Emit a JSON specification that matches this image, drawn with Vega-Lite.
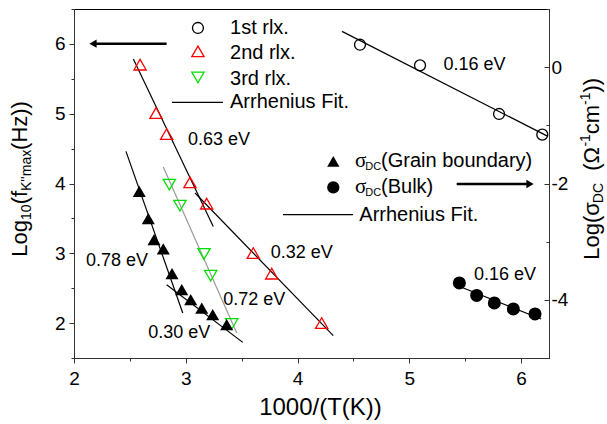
{
  "$schema": "https://vega.github.io/schema/vega-lite/v6.json",
  "width": 475,
  "height": 349,
  "autosize": "none",
  "padding": {"left": 74, "top": 9, "right": 58, "bottom": 66},
  "background": "white",
  "config": {
    "font": "Liberation Sans",
    "view": {"stroke": "#000", "strokeWidth": 1},
    "axis": {
      "labelFont": "Liberation Sans", "titleFont": "Liberation Sans",
      "labelFontSize": 19, "titleFontSize": 24, "titleFontWeight": "normal",
      "labelColor": "#000", "titleColor": "#000",
      "domainColor": "#333", "tickColor": "#333", "grid": false,
      "labelOverlap": false, "labelFlush": false
    },
    "text": {"font": "Liberation Sans", "color": "#000"}
  },
  "datasets": {
    "p2": [{"x":2.591,"y":5.702},{"x":2.734,"y":5.01},{"x":2.829,"y":4.709},{"x":3.038,"y":4.016},{"x":3.187,"y":3.711},{"x":3.604,"y":3.004},{"x":3.769,"y":2.708},{"x":4.216,"y":2.0}],
    "p3": [{"x":2.853,"y":3.983},{"x":2.948,"y":3.682},{"x":3.163,"y":2.99},{"x":3.223,"y":2.679},{"x":3.411,"y":1.987}],
    "gb": [{"x":2.584,"y":3.887},{"x":2.665,"y":3.496},{"x":2.716,"y":3.195},{"x":2.799,"y":3.062},{"x":2.877,"y":2.708},{"x":2.964,"y":2.479},{"x":3.044,"y":2.335},{"x":3.143,"y":2.216},{"x":3.241,"y":2.12},{"x":3.366,"y":1.977}],
    "p1": [{"x":4.559,"y":0.386},{"x":5.096,"y":0.03},{"x":5.803,"y":-0.805},{"x":6.19,"y":-1.161}],
    "bulk": [{"x":5.448,"y":-3.71},{"x":5.603,"y":-3.924},{"x":5.761,"y":-4.054},{"x":5.931,"y":-4.157},{"x":6.125,"y":-4.243}],
    "fitsL": [
      {"x":2.531,"y":5.784,"id":"2a"},{"x":3.246,"y":3.385,"id":"2a"},
      {"x":3.083,"y":3.864,"id":"2b"},{"x":4.32,"y":1.82,"id":"2b"},
      {"x":2.465,"y":4.46,"id":"ga"},{"x":2.973,"y":2.145,"id":"ga"},
      {"x":2.829,"y":2.55,"id":"gb"},{"x":3.51,"y":1.724,"id":"gb"},
      {"x":2.877,"y":5.162,"id":"L1"},{"x":3.333,"y":5.162,"id":"L1"},
      {"x":3.87,"y":3.553,"id":"L2"},{"x":4.496,"y":3.553,"id":"L2"}
    ],
    "fit3": [{"x":2.799,"y":4.236},{"x":3.456,"y":1.858}],
    "fitsR": [
      {"x":4.398,"y":0.615,"id":"1"},{"x":6.24,"y":-1.19,"id":"1"},
      {"x":5.45,"y":-3.77,"id":"b"},{"x":6.18,"y":-4.33,"id":"b"}
    ],
    "arrows": [
      {"x":2.829,"y":6.003,"id":"a"},{"x":2.19,"y":6.003,"id":"a"},
      {"x":5.424,"y":3.993,"id":"b"},{"x":6.06,"y":3.993,"id":"b"}
    ],
    "ann": [
      {"x":3.02,"y":4.627,"t":"0.63 eV"},
      {"x":3.76,"y":3.008,"t":"0.32 eV"},
      {"x":2.107,"y":2.896,"t":"0.78 eV"},
      {"x":3.336,"y":2.335,"t":"0.72 eV"},
      {"x":2.665,"y":1.858,"t":"0.30 eV"},
      {"x":5.305,"y":5.702,"t":"0.16 eV"},
      {"x":5.579,"y":2.693,"t":"0.16 eV"}
    ],
    "legtxt": [
      {"x":3.396,"y":6.228,"t":"1st rlx."},
      {"x":3.396,"y":5.87,"t":"2nd rlx."},
      {"x":3.396,"y":5.5,"t":"3rd rlx."},
      {"x":3.396,"y":5.162,"t":"Arrhenius Fit."},
      {"x":4.747,"y":4.317,"t":"(Grain boundary)"},
      {"x":4.747,"y":3.944,"t":"(Bulk)"},
      {"x":4.553,"y":3.553,"t":"Arrhenius Fit."}
    ],
    "legsig": [
      {"x":4.514,"y":4.317,"t":"σ"},
      {"x":4.514,"y":3.944,"t":"σ"}
    ],
    "legsub": [
      {"x":4.607,"y":4.317,"t":"DC"},
      {"x":4.607,"y":3.944,"t":"DC"}
    ],
    "ttlMain": [
      {"x":1.5795,"y":2.951,"t":"Log"},
      {"x":1.5795,"y":3.701,"t":"(f"},
      {"x":1.5795,"y":4.481,"t":"(Hz))"},
      {"x":6.698,"y":2.908,"t":"Log(σ"},
      {"x":6.698,"y":4.181,"t":"(Ω"},
      {"x":6.698,"y":4.706,"t":"cm"},
      {"x":6.698,"y":5.304,"t":"))"}
    ],
    "ttlSub": [
      {"x":1.5795,"y":3.477,"t":"10"},
      {"x":1.5795,"y":3.893,"t":"K''max"},
      {"x":6.698,"y":3.718,"t":"DC"}
    ],
    "ttlSup": [
      {"x":6.698,"y":4.529,"t":"-1"},
      {"x":6.698,"y":5.126,"t":"-1"}
    ]
  },
  "layer": [
    {
      "encoding": {
        "x": {"field": "x", "type": "quantitative", "scale": {"domain": [2, 6.25], "nice": false, "zero": false},
          "axis": {"title": "1000/(T(K))", "values": [2,2.5,3,3.5,4,4.5,5,5.5,6],
            "labelExpr": "datum.value % 1 === 0 ? '' + datum.value : ''",
            "tickSize": {"condition": {"test": "datum.value % 1 === 0", "value": 5}, "value": 3},
            "labelPadding": 6, "titlePadding": 7, "titleX": 246}},
        "y": {"field": "y", "type": "quantitative", "scale": {"domain": [1.5, 6.5], "nice": false, "zero": false},
          "axis": {"title": null, "values": [1.5,2,2.5,3,3.5,4,4.5,5,5.5,6,6.5],
            "labelExpr": "datum.value % 1 === 0 ? '' + datum.value : ''",
            "tickSize": {"condition": {"test": "datum.value % 1 === 0", "value": 5}, "value": 3},
            "labelPadding": 4}}
      },
      "layer": [
        {"data": {"name": "fitsL"}, "mark": {"type": "line", "color": "#000", "strokeWidth": 1.2},
          "encoding": {"detail": {"field": "id"}}},
        {"data": {"name": "fit3"}, "mark": {"type": "line", "color": "#999", "strokeWidth": 1.2}, "encoding": {}},
        {"data": {"name": "arrows"}, "mark": {"type": "line", "color": "#000", "strokeWidth": 2.5},
          "encoding": {"detail": {"field": "id"}}},
        {"data": {"values": [{"x": 2.17, "y": 6.003}]}, "mark": {"type": "point", "shape": "triangle-left", "filled": true, "color": "#000", "size": 70, "opacity": 1}},
        {"data": {"values": [{"x": 6.08, "y": 3.993}]}, "mark": {"type": "point", "shape": "triangle-right", "filled": true, "color": "#000", "size": 70, "opacity": 1}},
        {"data": {"name": "p2"}, "mark": {"type": "point", "shape": "triangle-up", "filled": false, "stroke": "#ff0000", "strokeWidth": 1.3, "size": 150, "opacity": 1}},
        {"data": {"name": "p3"}, "mark": {"type": "point", "shape": "triangle-down", "filled": false, "stroke": "#00e000", "strokeWidth": 1.3, "size": 150, "opacity": 1}},
        {"data": {"name": "gb"}, "mark": {"type": "point", "shape": "triangle-up", "filled": true, "color": "#000", "size": 170, "opacity": 1}},
        {"data": {"values": [{"x": 3.109, "y": 6.228}]}, "mark": {"type": "point", "shape": "circle", "filled": false, "stroke": "#000", "strokeWidth": 1.3, "size": 120, "opacity": 1}},
        {"data": {"values": [{"x": 3.109, "y": 5.893}]}, "mark": {"type": "point", "shape": "triangle-up", "filled": false, "stroke": "#ff0000", "strokeWidth": 1.3, "size": 150, "opacity": 1}},
        {"data": {"values": [{"x": 3.109, "y": 5.52}]}, "mark": {"type": "point", "shape": "triangle-down", "filled": false, "stroke": "#00e000", "strokeWidth": 1.3, "size": 150, "opacity": 1}},
        {"data": {"values": [{"x": 4.32, "y": 4.317}]}, "mark": {"type": "point", "shape": "triangle-up", "filled": true, "color": "#000", "size": 150, "opacity": 1}},
        {"data": {"values": [{"x": 4.32, "y": 3.944}]}, "mark": {"type": "point", "shape": "circle", "filled": true, "color": "#000", "size": 150, "opacity": 1}},
        {"data": {"name": "ann"}, "mark": {"type": "text", "align": "left", "baseline": "middle", "fontSize": 18},
          "encoding": {"text": {"field": "t"}}},
        {"data": {"name": "legtxt"}, "mark": {"type": "text", "align": "left", "baseline": "middle", "fontSize": 20},
          "encoding": {"text": {"field": "t"}}},
        {"data": {"name": "legsig"}, "mark": {"type": "text", "align": "left", "baseline": "middle", "fontSize": 21, "font": "Liberation Serif"},
          "encoding": {"text": {"field": "t"}}},
        {"data": {"name": "legsub"}, "mark": {"type": "text", "align": "left", "baseline": "middle", "fontSize": 11, "dy": 6},
          "encoding": {"text": {"field": "t"}}},
        {"data": {"name": "ttlMain"}, "mark": {"type": "text", "align": "left", "baseline": "alphabetic", "angle": 270, "fontSize": 22},
          "encoding": {"text": {"field": "t"}}},
        {"data": {"name": "ttlSub"}, "mark": {"type": "text", "align": "left", "baseline": "alphabetic", "angle": 270, "fontSize": 14, "dy": 4},
          "encoding": {"text": {"field": "t"}}},
        {"data": {"name": "ttlSup"}, "mark": {"type": "text", "align": "left", "baseline": "alphabetic", "angle": 270, "fontSize": 14, "dy": -9},
          "encoding": {"text": {"field": "t"}}}
      ]
    },
    {
      "encoding": {
        "x": {"field": "x", "type": "quantitative", "scale": {"domain": [2, 6.25], "nice": false, "zero": false}},
        "y": {"field": "y", "type": "quantitative", "scale": {"domain": [-5, 1], "nice": false, "zero": false},
          "axis": {"orient": "right", "title": null, "values": [-5,-4,-3,-2,-1,0,1],
            "labelExpr": "datum.value % 2 === 0 ? (datum.value < 0 ? '-' + (-datum.value) : '' + datum.value) : ''",
            "tickSize": {"condition": {"test": "datum.value % 2 === 0", "value": -5}, "value": -3},
            "labelPadding": 7}}
      },
      "layer": [
        {"data": {"name": "fitsR"}, "mark": {"type": "line", "color": "#000", "strokeWidth": 1.2},
          "encoding": {"detail": {"field": "id"}}},
        {"data": {"name": "p1"}, "mark": {"type": "point", "shape": "circle", "filled": false, "stroke": "#000", "strokeWidth": 1.3, "size": 120, "opacity": 1}},
        {"data": {"name": "bulk"}, "mark": {"type": "point", "shape": "circle", "filled": true, "color": "#000", "size": 170, "opacity": 1}}
      ]
    }
  ],
  "resolve": {"scale": {"y": "independent"}}
}
